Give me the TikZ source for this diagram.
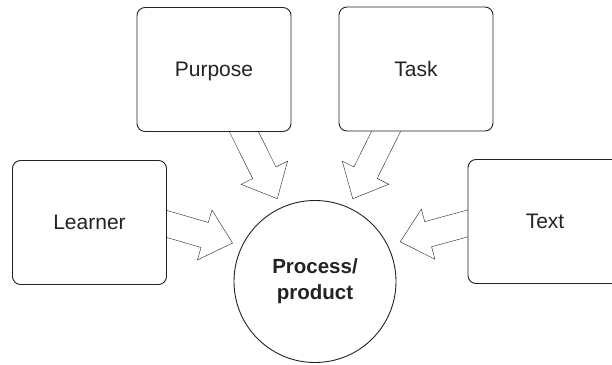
\documentclass[tikz,border=0pt]{standalone}
\usepackage{fontspec}
\setmainfont{Liberation Sans}
\usetikzlibrary{calc}
\pgfdeclarelayer{background}
\pgfsetlayers{background,main}
\definecolor{ink}{RGB}{35,35,35}
% fat outlined arrow from start coordinate #1 (on box edge) to tip #2
\newcommand\fatarrow[2]{%
  \coordinate (fa-s) at ($(#1)!-20pt!(#2)$);
  \coordinate (fa-h) at ($(#2)!29pt!(#1)$);
  \draw[fatline] ($(fa-s)!13pt!90:(#2)$) -- ($(fa-h)!13pt!90:(#2)$)
    -- ($(fa-h)!26pt!90:(#2)$) -- (#2) -- ($(fa-h)!26pt!-90:(#2)$)
    -- ($(fa-h)!13pt!-90:(#2)$) -- ($(fa-s)!13pt!-90:(#2)$);
}
\tikzset{
  box/.style={draw=ink, fill=white, rounded corners=8pt, minimum width=154pt,
    minimum height=124pt, inner sep=0pt, text=ink, text height=14.5pt, text depth=0pt,
    font=\fontsize{21}{25}\selectfont},
  hub/.style={draw=ink, fill=white, circle, minimum size=162pt, inner sep=0pt,
    text=ink, align=center, font=\fontsize{20.5}{25.7}\selectfont\bfseries},
  fatline/.style={draw=ink, fill=white, line join=miter}
}
\begin{document}
\begin{tikzpicture}[x=1pt, y=1pt, line width=0.9pt]
\useasboundingbox (0,0) rectangle (612,364);
\clip (0,0) rectangle (612,364);
\node[box] (purpose) at (214,294.5) {Purpose};
\node[box] (task) at (416,295) {Task};
\node[box] (learner) at (89.5,141.5) {Learner};
\node[box] (txt) at (545,142.5) {Text};
\node[hub] (pp) at (315,82.5) {Process/\\product};
\coordinate (tL) at ($(pp.center)+(155:91)$);
\coordinate (tP) at ($(pp.center)+(114.5:91)$);
\coordinate (tT) at ($(pp.center)+(65.5:91)$);
\coordinate (tX) at ($(pp.center)+(25:94)$);
\coordinate (eL) at ($(learner.east)+(0,-1.5)$);
\coordinate (eP) at ($(purpose.south)+(30,0)$);
\coordinate (eT) at ($(task.south)+(-30,0)$);
\coordinate (eX) at ($(txt.west)+(0,-2)$);
\begin{pgfonlayer}{background}
\fatarrow{eL}{tL}
\fatarrow{eP}{tP}
\fatarrow{eT}{tT}
\fatarrow{eX}{tX}
\end{pgfonlayer}
\end{tikzpicture}
\end{document}
